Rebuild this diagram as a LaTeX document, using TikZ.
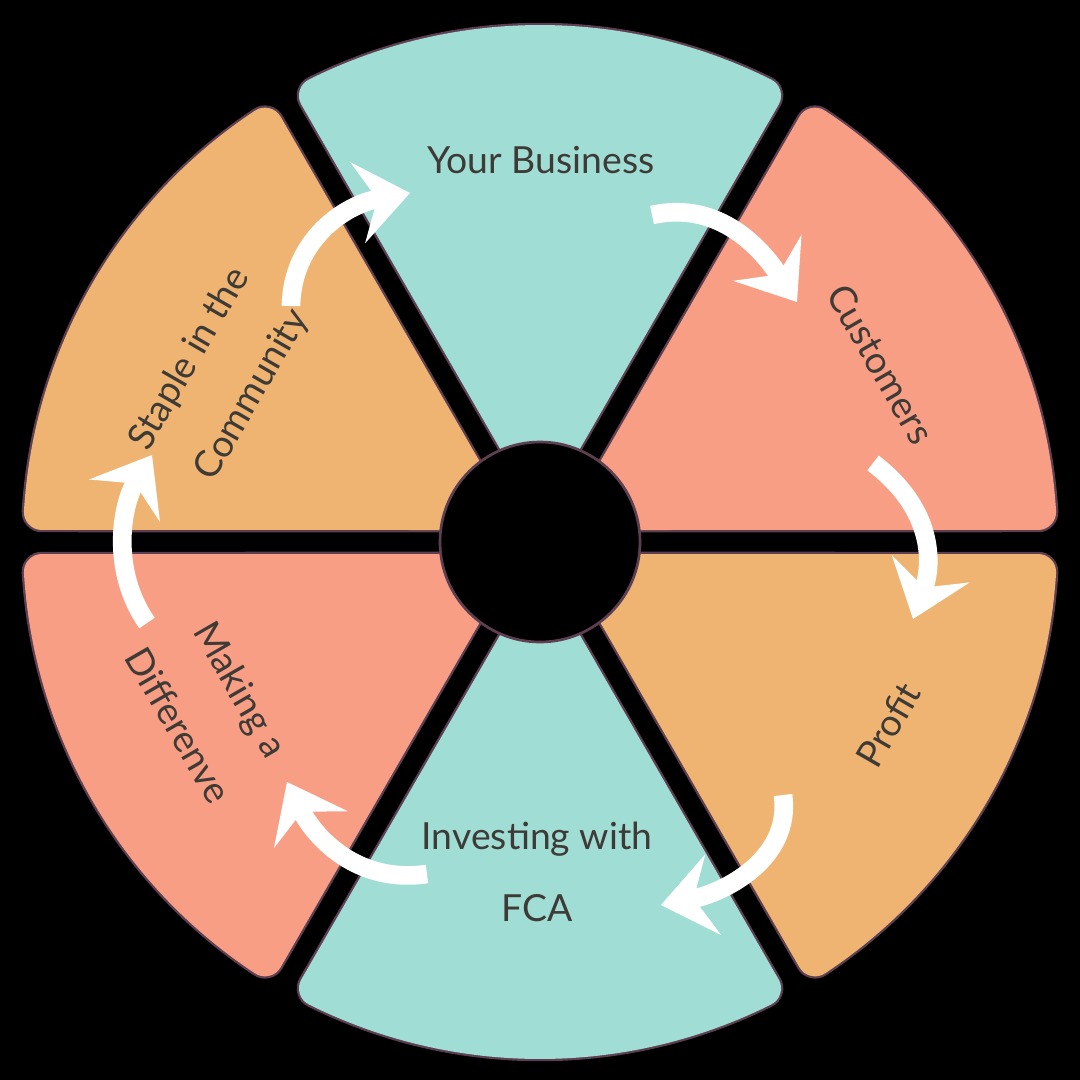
\documentclass[tikz,border=0pt]{standalone}
\usepackage{fontspec}
\setmainfont{Lato}
\usepackage{tikz}
\usetikzlibrary{arrows.meta}
\definecolor{wheelteal}{HTML}{A0DDD4}
\definecolor{wheelsalmon}{HTML}{F89E84}
\definecolor{wheelorange}{HTML}{EFB472}
\definecolor{rimpurple}{HTML}{5E3F52}
\definecolor{labelgray}{HTML}{3E3A36}
\tikzset{wheelpiece/.style={fill=#1,draw=#1,line width=27pt,line join=round,
    preaction={draw=rimpurple,line width=30.4pt,line join=round}},
    wheeltext/.style={text=labelgray,font=\fontsize{28}{54}\selectfont,align=center,inner sep=0.75pt},
    flowarrow/.style={draw=white,line width=14pt,
    -{Stealth[length=40pt,width=62pt,inset=15pt,line width=0pt]}}}

\begin{document}
\begin{tikzpicture}[x=0.75pt,y=0.75pt,yscale=-1,xscale=1]
\useasboundingbox (0,0) rectangle (1080,1080);
%Shape: Rectangle [background]
\fill[black] (0,0) rectangle (1080,1080);

\begin{scope}[shift={(540,542)},yscale=-1]
%Shape: Sector [top]
\path[wheelpiece=wheelteal] (90:60) -- (63.45:499) arc[start angle=63.45,end angle=116.55,radius=499] -- cycle;
%Shape: Sector [upper right]
\path[wheelpiece=wheelsalmon] (30:60) -- (3.45:499) arc[start angle=3.45,end angle=56.55,radius=499] -- cycle;
%Shape: Sector [lower right]
\path[wheelpiece=wheelorange] (-30:60) -- (-56.55:499) arc[start angle=-56.55,end angle=-3.45,radius=499] -- cycle;
%Shape: Sector [bottom]
\path[wheelpiece=wheelteal] (270:60) -- (243.45:499) arc[start angle=243.45,end angle=296.55,radius=499] -- cycle;
%Shape: Sector [lower left]
\path[wheelpiece=wheelsalmon] (210:60) -- (183.45:499) arc[start angle=183.45,end angle=236.55,radius=499] -- cycle;
%Shape: Sector [upper left]
\path[wheelpiece=wheelorange] (150:60) -- (123.45:499) arc[start angle=123.45,end angle=176.55,radius=499] -- cycle;
%Shape: Circle [hub]
\draw[rimpurple,fill=black,line width=2pt] (0,0) circle[radius=100];
\end{scope}

% Text Node
\draw (541,160) node (business) [wheeltext] {Your Business};
% Text Node
\draw (881,364) node (customers) [wheeltext,rotate=-60] {Customers};
% Text Node
\draw (888,725) node (profit) [wheeltext,rotate=60] {Profit};
% Text Node
\draw (537,872) node (fca) [wheeltext] {Investing with\\FCA};
% Text Node
\draw (210,707) node (making) [wheeltext,rotate=-60] {Making a\\Differenve};
% Text Node
\draw (221,377) node (staple) [wheeltext,rotate=60] {Staple in the\\Community};

%Arrow ends
\coordinate (staple-out) at (291,306);
\coordinate (business-in) at (410,193);
\coordinate (business-out) at (652,215);
\coordinate (customers-in) at (797,302);
\coordinate (customers-out) at (873,463);
\coordinate (profit-in) at (913,619);
\coordinate (profit-out) at (783,795);
\coordinate (fca-in) at (661,905);
\coordinate (fca-out) at (427,874);
\coordinate (making-in) at (287,782);
\coordinate (making-out) at (147,623);
\coordinate (staple-in) at (152,455);

%Curve Lines
\draw[flowarrow] (staple-out) .. controls (292,240) and (345,205) .. (business-in);
%Curve Lines
\draw[flowarrow] (business-out) .. controls (720,200) and (762,250) .. (customers-in);
%Curve Lines
\draw[flowarrow] (customers-out) .. controls (935,510) and (932,565) .. (profit-in);
%Curve Lines
\draw[flowarrow] (profit-out) .. controls (792,860) and (722,893) .. (fca-in);
%Curve Lines
\draw[flowarrow] (fca-out) .. controls (350,885) and (310,828) .. (making-in);
%Curve Lines
\draw[flowarrow] (making-out) .. controls (110,570) and (122,505) .. (staple-in);

\end{tikzpicture}
\end{document}
